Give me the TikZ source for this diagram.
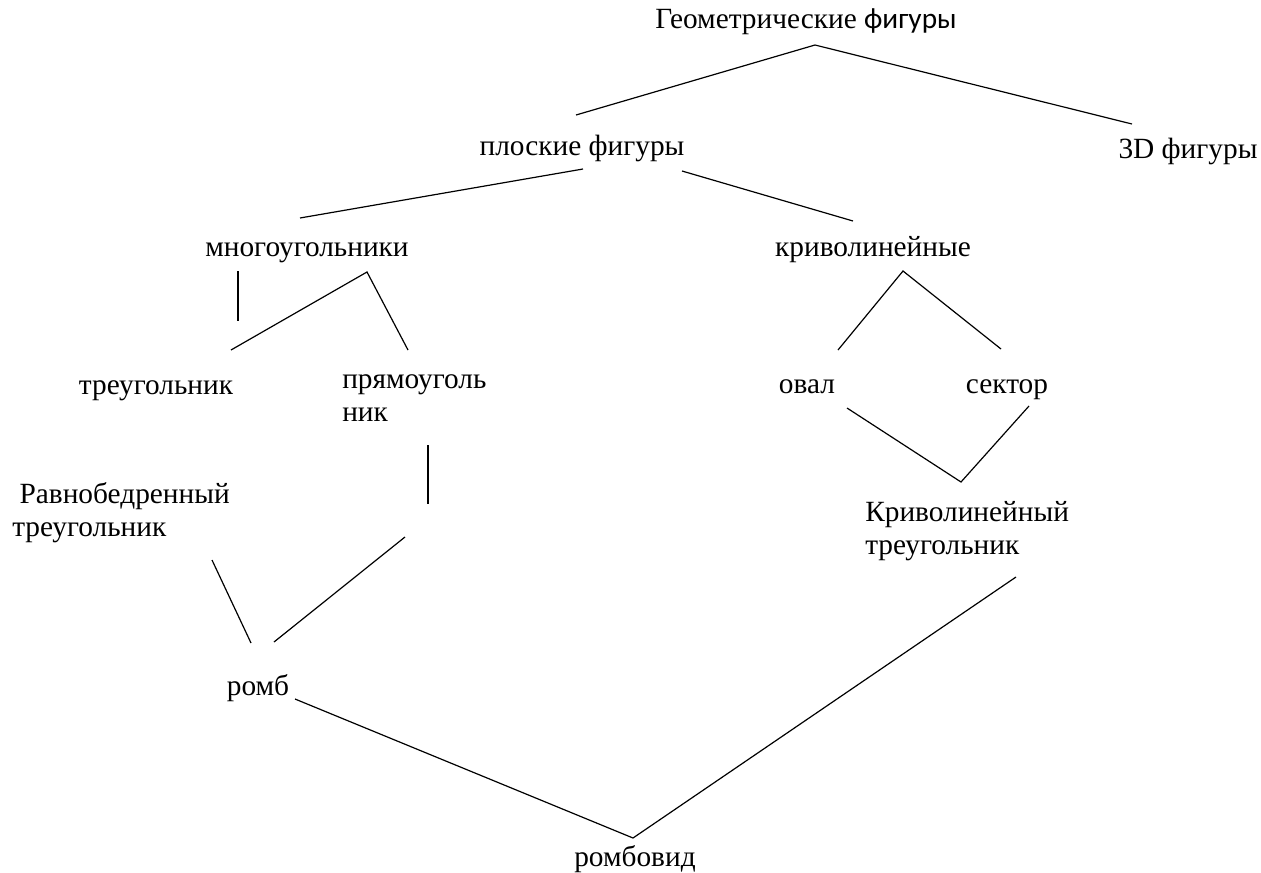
\documentclass[tikz,border=0pt]{standalone}
\usepackage{fontspec}
\setmainfont{Liberation Serif}
\newfontfamily\calfont{Carlito}
\tikzset{
  lbl/.style={inner sep=0pt, font=\fontsize{22}{24.75}\selectfont},
  link/.style={line width=0.9pt}
}
\begin{document}
\begin{tikzpicture}[x=0.75pt,y=-0.75pt]
        \useasboundingbox (0,0) rectangle (1261,872);
        % labels
        \node[lbl, anchor=base] (geo) at (806,28) {Геометрические {\calfont фигуры}};
        \node[lbl, anchor=base] (plosk) at (582,155) {плоские фигуры};
        \node[lbl, anchor=base] (tri3d) at (1188,158) {3D фигуры};
        \node[lbl, anchor=base] (mnogo) at (307,256) {многоугольники};
        \node[lbl, anchor=base] (krivo) at (873,256) {криволинейные};
        \node[lbl, anchor=base] (treug) at (156,394) {треугольник};
        \node[lbl, align=left, anchor=west] (pryam) at (342,398) {прямоуголь\\ник};
        \node[lbl, anchor=base] (oval) at (807,393) {овал};
        \node[lbl, anchor=base] (sektor) at (1007,393) {сектор};
        \node[lbl, align=left, anchor=west] (ravno) at (12,513) {\ Равнобедренный\\треугольник};
        \node[lbl, align=left, anchor=west] (krtreug) at (865,531) {Криволинейный\\треугольник};
        \node[lbl, anchor=base] (romb) at (258,695) {ромб};
        \node[lbl, anchor=base] (rombovid) at (635,866) {ромбовид};
        % line ends
        \coordinate (g1) at (815,45);
        \coordinate (p0) at (576,115);
        \coordinate (t0) at (1132,124);
        \coordinate (p1) at (583,169);
        \coordinate (p2) at (682,171);
        \coordinate (m0) at (300,218);
        \coordinate (k0) at (853,221);
        \coordinate (v1) at (238,271);
        \coordinate (v2) at (238,321);
        \coordinate (m1) at (367,272);
        \coordinate (tr0) at (231,350);
        \coordinate (pr0) at (408,350);
        \coordinate (k1) at (903,271);
        \coordinate (o0) at (838,350);
        \coordinate (s0) at (1001,349);
        \coordinate (o1) at (847,408);
        \coordinate (s1) at (1029,406);
        \coordinate (kt0) at (961,482);
        \coordinate (pr1) at (428,445);
        \coordinate (pr2) at (428,504);
        \coordinate (pr3) at (405,537);
        \coordinate (rb0) at (274,642);
        \coordinate (rv0) at (212,560);
        \coordinate (rb1) at (251,643);
        \coordinate (rb2) at (295,699);
        \coordinate (kt1) at (1016,577);
        \coordinate (rbv) at (633,838);
        % connectors
        \draw[link] (p0) -- (g1) -- (t0);
        \draw[link] (m0) -- (p1);
        \draw[link] (p2) -- (k0);
        \draw[link] (v1) -- (v2);
        \draw[link] (tr0) -- (m1) -- (pr0);
        \draw[link] (o0) -- (k1) -- (s0);
        \draw[link] (o1) -- (kt0) -- (s1);
        \draw[link] (pr1) -- (pr2);
        \draw[link] (pr3) -- (rb0);
        \draw[link] (rv0) -- (rb1);
        \draw[link] (rb2) -- (rbv) -- (kt1);
\end{tikzpicture}
\end{document}
